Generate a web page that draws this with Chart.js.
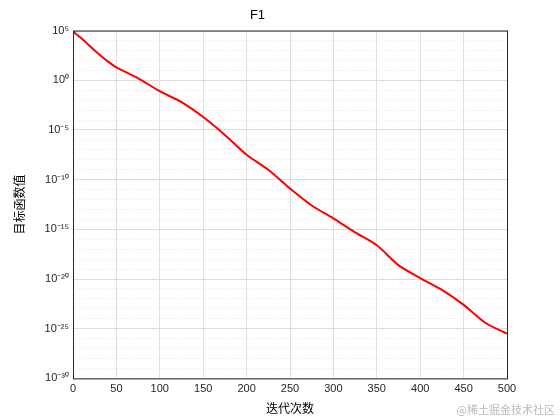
<!DOCTYPE html>
<html><head><meta charset="utf-8">
<script src="https://cdn.jsdelivr.net/npm/chart.js@4/dist/chart.umd.min.js"></script>
<style>html,body{margin:0;background:#fff}#wrap{position:relative;width:560px;height:420px}</style>
</head><body><div id="wrap"><canvas id="c" width="560" height="420"></canvas></div>
<script>
// iterations and log10 of objective value
const iters = [0, 10, 25, 40, 50, 75, 100, 125, 150, 175, 200, 225, 250, 275, 300, 325, 350, 375, 400, 425, 450, 475, 500];
const exps  = [4.9, 4.2, 3.0, 1.9, 1.3, 0.2, -1.1, -2.2, -3.7, -5.5, -7.5, -9.0, -10.9, -12.6, -13.9, -15.3, -16.6, -18.6, -19.9, -21.1, -22.6, -24.4, -25.5];
const xTicks = [0, 50, 100, 150, 200, 250, 300, 350, 400, 450, 500];
const yMin = -30, yMax = 5;

const SUP = {'-':'⁻','0':'⁰','1':'¹','2':'²','3':'³','4':'⁴','5':'⁵','6':'⁶','7':'⁷','8':'⁸','9':'⁹'};
const sup = n => String(n).split('').map(c => SUP[c]).join('');

const frame = {
  id: 'frame',
  afterDraw(c) {
    const a = c.chartArea, g = c.ctx;
    g.save(); g.strokeStyle = '#262626'; g.lineWidth = 1;
    g.strokeRect(a.left + 0.5, a.top + 0.5, a.right - a.left, a.bottom - a.top);
    g.fillStyle = '#bbb'; g.font = '11px "Noto Sans CJK SC"'; g.textAlign = 'right';
    g.fillText('@稀土掘金技术社区', 555, 414);
    g.restore();
  }
};

new Chart(document.getElementById('c'), {
  type: 'line',
  data: { datasets: [{
    data: iters.map((x, i) => ({ x, y: Math.pow(10, exps[i]) })),
    borderColor: '#ff0000', borderWidth: 2, pointRadius: 0, tension: 0.3
  }]},
  options: {
    responsive: false, animation: false,
    layout: { padding: { left: 8, right: 53, top: 0, bottom: 0 } },
    plugins: {
      legend: { display: false }, tooltip: { enabled: false },
      title: { display: true, text: 'F1', color: '#000', font: { family: 'Arial, Liberation Sans', size: 13, weight: 'normal' }, padding: { top: 8, bottom: 7 } }
    },
    scales: {
      x: {
        type: 'linear', min: 0, max: 500,
        afterBuildTicks: s => { s.ticks = xTicks.map(v => ({ value: v })); },
        grid: { color: '#e0e0e0', drawTicks: false },
        border: { display: false },
        ticks: { color: '#262626', font: { family: 'Arial, Liberation Sans', size: 11 }, maxRotation: 0, padding: 4 },
        title: { display: true, text: '迭代次数', color: '#000', font: { family: 'Noto Sans CJK SC', size: 12 }, padding: { top: 2 } }
      },
      y: {
        type: 'logarithmic', min: Math.pow(10, yMin), max: Math.pow(10, yMax),
        afterBuildTicks: s => { const t = []; for (let k = yMin; k <= yMax; k++) t.push({ value: Math.pow(10, k) }); s.ticks = t; },
        afterFit: s => { s.width = 65; },
        grid: {
          drawTicks: false,
          color: ctx => { const k = Math.round(Math.log10(ctx.tick.value)); return k % 5 === 0 ? '#dcdcdc' : '#e6e6e6'; }
        },
        border: { display: false, dash: ctx => { const k = Math.round(Math.log10(ctx.tick.value)); return k % 5 === 0 ? [] : [1, 2]; } },
        ticks: {
          autoSkip: false, color: '#262626', font: { family: 'Arial, Liberation Sans', size: 11 }, padding: 4,
          callback: v => { const k = Math.round(Math.log10(v)); return k % 5 === 0 ? '10' + sup(k) : ''; }
        },
        title: { display: true, text: '目标函数值', color: '#000', font: { family: 'Noto Sans CJK SC', size: 12 }, padding: { bottom: 2 } }
      }
    }
  },
  plugins: [frame]
});
</script></body></html>
